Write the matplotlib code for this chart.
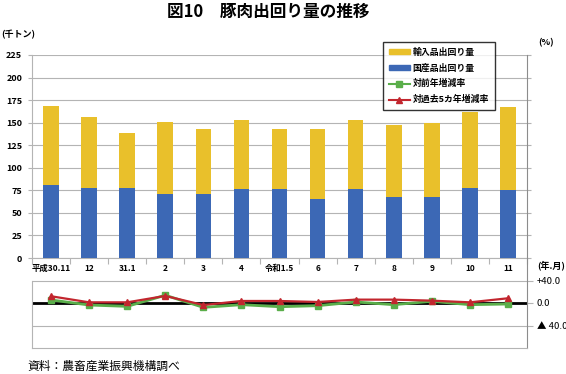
import matplotlib
matplotlib.use('Agg')
import matplotlib.pyplot as plt
import matplotlib.patches as mpatches
from matplotlib.lines import Line2D
import numpy as np

plt.rcParams['font.family'] = ['Noto Sans CJK JP', 'DejaVu Sans']

# ── Data ──────────────────────────────────────────────────────────────────────
months = ['平成30.11', '12', '31.1', '2', '3', '4', '令和1.5',
          '6', '7', '8', '9', '10', '11']
domestic = [81, 78, 78, 71, 71, 76, 76, 65, 76, 68, 68, 78, 75]
imported = [87, 78, 60, 80, 72.5, 77.5, 67.5, 78.5, 77.5, 79, 82, 84, 92]
yoy_pct = [5.4, -3.6, -6.0, 13.8, -7.8, -3.0, -6.6, -4.8, 1.8, -3.0, 3.0, -3.0, -1.8]
avg5_pct = [12.0, 1.2, 1.2, 12.6, -3.6, 3.6, 3.6, 1.8, 6.0, 6.0, 4.2, 1.2, 8.4]

left_ticks = [0, 25, 50, 75, 100, 125, 150, 175, 200, 225]
pct_ticks = [40, 0, -40]
pct_labels = ['+40.0', '0.0', '▲ 40.0']

# ── Palette ───────────────────────────────────────────────────────────────────
YELLOW = '#E9C02B'
BLUE = '#3C68B5'
GREEN = '#5AAE4A'
RED = '#C2262E'
GRID = '#b4b4b4'
SPINE = '#8c8c8c'

W, H = 566, 374
fig = plt.figure(figsize=(W / 100, H / 100), dpi=100)

x0, x1 = 32, 527
ax = fig.add_axes([x0 / W, 1 - 258 / H, (x1 - x0) / W, (258 - 55) / H])
ax2 = fig.add_axes([x0 / W, 1 - 348 / H, (x1 - x0) / W, (348 - 258) / H])
ax2.set_facecolor('none')

x = np.arange(len(months))

# ── Stacked bars ──────────────────────────────────────────────────────────────
ax.bar(x, domestic, width=0.41, color=BLUE, zorder=3)
ax.bar(x, imported, width=0.41, bottom=domestic, color=YELLOW, zorder=3)

ax.set_xlim(-0.5, len(months) - 0.5)
ax.set_ylim(0, 225)
ax.set_yticks(left_ticks)
ax.set_yticklabels([str(v) for v in left_ticks], fontsize=6.5, fontweight='bold')
ax.yaxis.grid(True, color=GRID, linewidth=0.8, zorder=0)
ax.set_axisbelow(True)
ax.tick_params(axis='y', length=3, color=GRID, pad=4, right=True, labelright=False)

ax.set_xticks(np.arange(len(months) + 1) - 0.5)
ax.set_xticklabels([])
ax.set_xticks(x, minor=True)
ax.set_xticklabels(months, minor=True, fontsize=6, fontweight='bold')
ax.tick_params(axis='x', which='major', length=4, color=GRID, direction='out')
ax.tick_params(axis='x', which='minor', length=0, pad=4)

for side in ['left', 'bottom']:
    ax.spines[side].set_color(GRID)
ax.spines['right'].set_color(SPINE)
ax.spines['top'].set_visible(False)

# ── Rate lines ────────────────────────────────────────────────────────────────
ax2.axhline(0, color='black', linewidth=2.0, zorder=2)
ax2.plot(x, yoy_pct, color=GREEN, linewidth=2.0, marker='s', markersize=4.5, zorder=3)
ax2.plot(x, avg5_pct, color=RED, linewidth=1.6, marker='^', markersize=5, zorder=4)

ax2.set_xlim(-0.5, len(months) - 0.5)
ax2.set_ylim(-80, 80)
ax2.set_xticks([])
ax2.yaxis.tick_right()
ax2.set_yticks(pct_ticks)
ax2.set_yticklabels(pct_labels, fontsize=6.8)
ax2.tick_params(axis='y', length=4, color=GRID, pad=3)
for v in [40, -40]:
    ax2.axhline(v, color=GRID, linewidth=0.8, zorder=1)
ax2.spines['top'].set_visible(False)
ax2.spines['bottom'].set_color(GRID)
ax2.spines['left'].set_color(GRID)
ax2.spines['left'].set_bounds(-80, 40)
ax2.spines['right'].set_color(SPINE)

# ── Legend ────────────────────────────────────────────────────────────────────
handles = [
    mpatches.Patch(color=YELLOW, label='輸入品出回り量'),
    mpatches.Patch(color=BLUE, label='国産品出回り量'),
    Line2D([0], [0], color=GREEN, lw=1.5, marker='s', markersize=4, label='対前年増減率'),
    Line2D([0], [0], color=RED, lw=1.5, marker='^', markersize=4, label='対過去5カ年増減率'),
]
leg = fig.legend(handles=handles, loc='upper left',
                 bbox_to_anchor=(383 / W, 1 - 42 / H), borderaxespad=0,
                 fontsize=6.4, frameon=True, fancybox=False,
                 handlelength=2.4, handleheight=0.5, handletextpad=0.3,
                 labelspacing=0.75, borderpad=0.65)
leg.get_frame().set_edgecolor('black')
leg.get_frame().set_linewidth(1.0)
for t in leg.get_texts():
    t.set_fontweight('bold')

# ── Texts ─────────────────────────────────────────────────────────────────────
fig.text(0.474, 0.968, '図10　豚肉出回り量の推移', ha='center', va='center',
         fontsize=12, fontweight='bold')
fig.text(0.002, 1 - 35 / H, '(千トン)', ha='left', va='center', fontsize=6.5,
         fontweight='bold')
fig.text(538 / W, 1 - 43 / H, '(%)', ha='left', va='center', fontsize=6.5,
         fontweight='bold')
fig.text(537 / W, 1 - 265 / H, '(年.月)', ha='left', va='center', fontsize=6.5,
         fontweight='bold')
fig.text(27 / W, 1 - 366 / H, '資料：農畜産業振興機構調べ', ha='left', va='center',
         fontsize=8.5)

plt.savefig('out.png', dpi=100, facecolor='white')
plt.close()
